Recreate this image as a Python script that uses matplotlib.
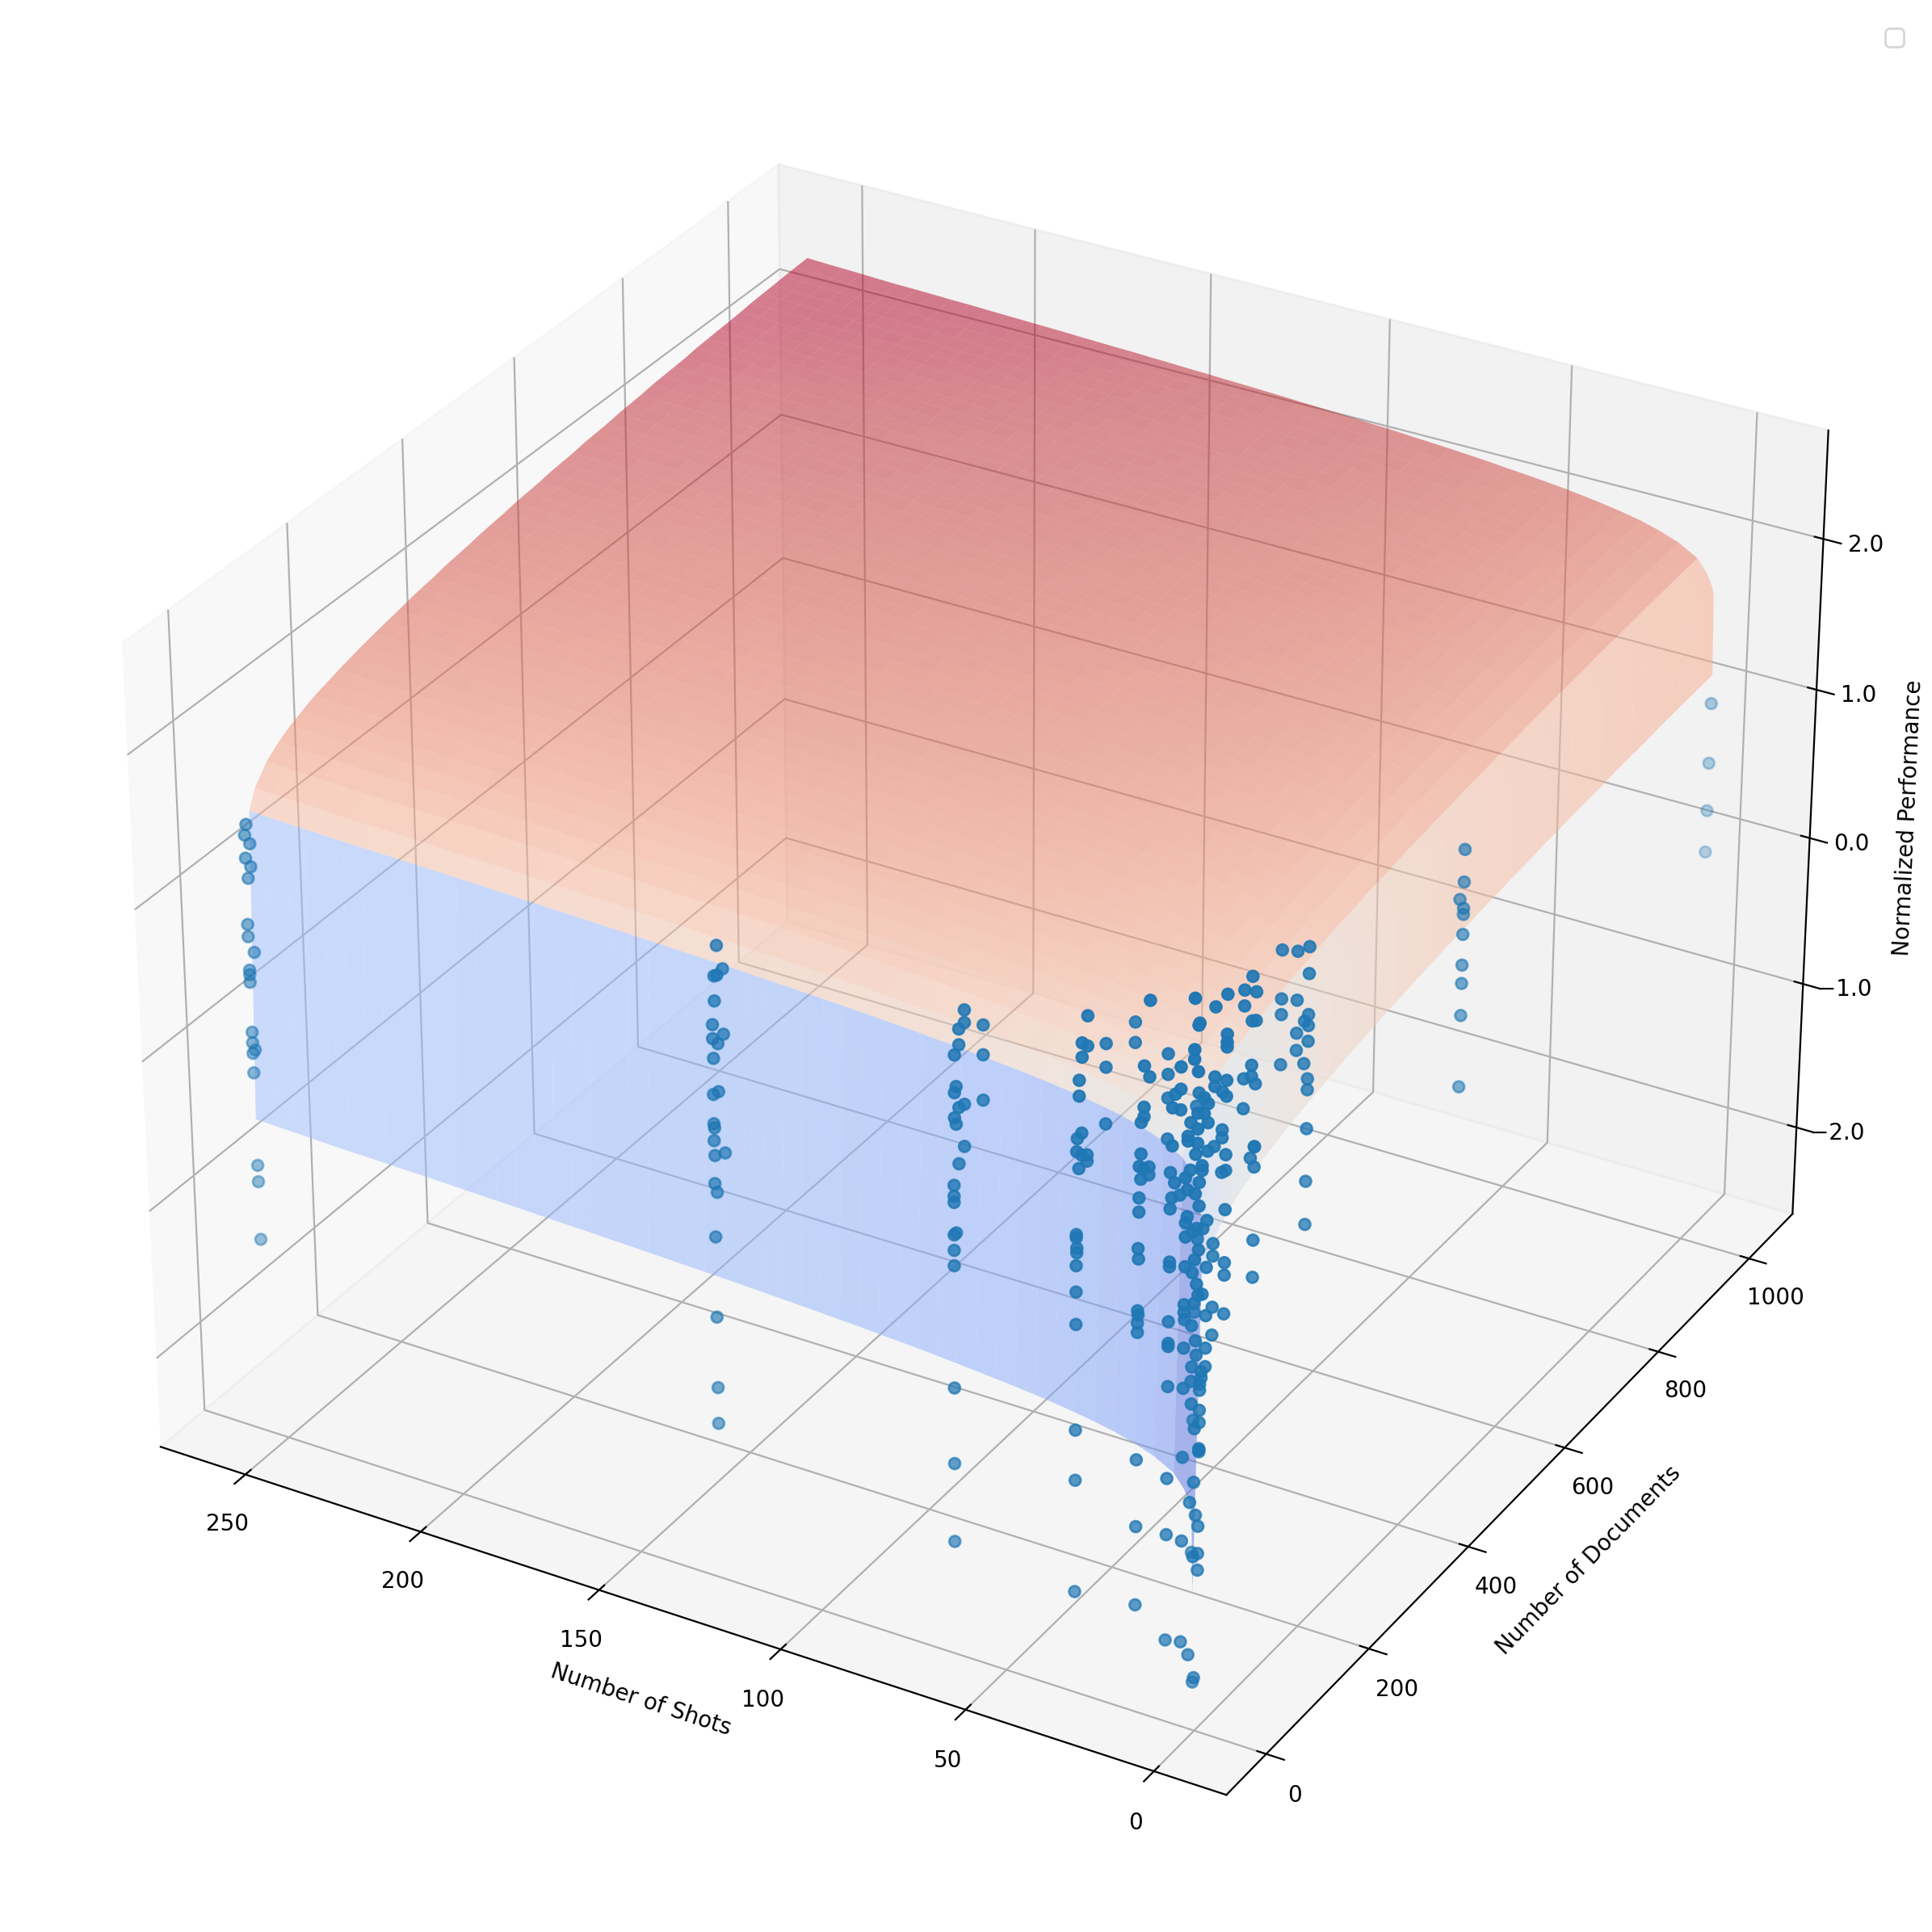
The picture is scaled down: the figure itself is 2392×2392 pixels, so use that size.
import numpy as np
import matplotlib
matplotlib.use("Agg")
import matplotlib.pyplot as plt
from matplotlib.colors import TwoSlopeNorm

# surface table: value at grid = base + shots_part + docs_part
strip_shots = [1, 1.5, 2, 3.6, 6.2]
strip_part = [0, .53, .58, .66, .74]
shots_grid = [6.2, 11.4, 16.6, 21.8, 27, 32.2, 37.4, 42.6, 47.8, 53, 58.2, 63.4, 68.6, 73.8, 79, 84.2,
              89.4, 94.6, 99.8, 105, 110.2, 115.4, 120.6, 125.8, 131, 136.2, 141.4, 146.6, 151.8, 157, 162.2,
              167.4, 172.6, 177.8, 183, 188.2, 193.4, 198.6, 203.8, 209, 214.2, 219.4, 224.6, 229.8, 235,
              240.2, 245.4, 250.6, 256]
shots_part = [.74, .81, .855, .89, .915, .936, .954, .97, .983, .995, 1.006, 1.017, 1.027, 1.036, 1.044, 1.051,
              1.06, 1.066, 1.073, 1.079, 1.085, 1.09, 1.096, 1.101, 1.106, 1.11, 1.115, 1.119, 1.124, 1.128, 1.133,
              1.136, 1.14, 1.144, 1.149, 1.152, 1.156, 1.159, 1.163, 1.167, 1.169, 1.173, 1.176, 1.178, 1.182,
              1.187, 1.191, 1.195, 1.2]
docs_grid = [1, 11.3, 21.9, 42.8, 63.6, 84.5, 105, 126, 147, 168, 189, 210, 231, 252, 273, 294, 314, 335, 356, 377,
             398, 419, 440, 461, 482, 503, 524, 545, 566, 587, 608, 629, 650, 671, 692, 713, 734, 754, 775, 796,
             817, 838, 859, 880, 901, 922, 943, 964, 985, 1006, 1030]
docs_part = [0, 2.0, 2.115, 2.226, 2.291, 2.339, 2.375, 2.41, 2.434, 2.459, 2.481, 2.501, 2.519, 2.536, 2.551, 2.57,
             2.582, 2.594, 2.611, 2.621, 2.632, 2.646, 2.656, 2.665, 2.678, 2.686, 2.694, 2.706, 2.713, 2.72, 2.732,
             2.738, 2.744, 2.755, 2.761, 2.767, 2.777, 2.782, 2.787, 2.792, 2.802, 2.807, 2.812, 2.816, 2.822, 2.83,
             2.834, 2.838, 2.843, 2.847, 2.85]
base = -1.69

# measured points, per number of shots then number of documents
perf_s1 = {1: [-1.46, -0.97, -0.62, -0.05, 0.67, 1.21, 1.30, 1.40, 1.66, 1.95], 2: [0.31],
           5: [-2.28, -1.20, 0.23, 0.52, 0.80, 0.95],
           10: [-1.58, -1.47, -1.29, -0.80, -0.79, -0.78, -0.61, -0.53, -0.40, -0.36, 1.01, 1.04],
           20: [-0.28, -0.16, 0.05, 0.36, 0.66, 1.10, 1.28, 1.40],
           54: [-0.05, 0.20, 0.28, 0.62, 0.87, 0.97, 1.34, 1.44, 1.65, 1.68, 1.73, 1.98],
           108: [0.01, 0.25, 0.72, 0.85, 0.85, 1.25, 1.65, 1.83],
           208: [0.03, 0.31, 0.65, 0.90, 0.97, 1.21, 1.31, 1.38, 1.64, 1.81],
           512: [-0.03, 0.44, 0.65, 0.77, 0.97, 1.10, 1.14, 1.31, 1.52], 1030: [-0.03, 0.25, 0.57, 0.97]}
perf_s2 = {1: [-2.12, -1.11, -0.32, 0.04, 0.38, 0.64, 1.73, 1.79, 2.11], 2: [-0.47, -0.23],
           5: [0.17, 0.45, 0.87, 1.12], 10: [-0.18], 20: [-0.36, -0.32, 0.18, 0.60, 1.33, 1.43],
           54: [0.85, 1.07, 1.12, 1.36], 108: [0.77, 1.29, 1.36, 1.64, 1.92], 208: [1.06, 1.33], 512: [1.19]}
perf_s4 = {1: [-2.05, -1.38, -0.83, -0.38, -0.12, 0.11, 0.16, 0.97], 2: [0.06, 0.40, 0.59, 0.68],
           5: [0.71, 0.88, 1.19, 1.22], 10: [0.99, 1.29], 54: [-0.21, -0.03, 0.30, 0.38, 1.00, 1.38, 1.44, 1.88],
           108: [1.07, 1.26, 1.72, 1.82], 208: [1.13, 1.24, 1.45, 1.76]}
perf_s8 = {1: [-2.07, -1.37, -1.00, -0.40, -0.14, -0.12, 0.02], 2: [0.37, 0.40, 0.74, 0.97],
           5: [0.80, 1.13, 1.37], 10: [0.88, 1.44], 20: [0.77, 1.31, 1.44, 1.58], 54: [-2.54, 0.38, 1.31, 1.75],
           208: [1.01, 1.33, 1.43, 1.74]}
perf_s16 = {1: [-1.90, -1.38, -0.94, -0.11, -0.05, 0.03, 0.43], 2: [-0.00, 0.36, 0.66, 0.75, 0.95],
            5: [0.86, 1.02, 1.22], 10: [0.91, 1.24, 1.30, 1.56], 20: [0.84, 0.89, 1.46, 1.94],
            54: [0.96, 1.22, 1.37, 1.50], 108: [-1.92, -1.04, -0.33, 1.00]}
perf_s32 = {1: [-1.94, -1.20, -0.87, -0.18, 0.03, 0.20, 0.38, 0.40, 0.93], 2: [0.28, 0.31, 1.01],
            5: [0.81, 1.27, 1.37], 10: [0.88, 1.02, 1.50, 1.59], 20: [0.81, 0.85, 1.54, 1.73],
            54: [0.94, 1.30, 1.45], 108: [1.29, 1.42]}
perf_s64 = {1: [-1.86, -1.34, -0.84, -0.04, 0.06, 0.16, 0.37, 0.41, 0.48], 2: [0.91, 1.07, 1.31],
            5: [0.16, 0.86, 1.10], 10: [0.59, 0.95, 1.35, 1.45], 20: [0.67, 0.94, 1.46, 1.54], 54: [0.86, 1.15, 1.34]}
perf_s128 = {1: [-1.57, -1.33, -0.86, -0.33, 0.02, 0.30, 0.41, 0.60, 0.96, 1.05], 2: [0.20, 0.38, 0.83],
             5: [-0.05, 1.19, 1.35], 10: [0.59, 0.90, 1.34, 1.53], 20: [0.16, 0.93, 1.35]}
perf_s256 = {1: [-1.30, -0.91, -0.80, -0.18, -0.05, 0.02, 0.09, 0.42, 0.47, 0.50, 0.72, 0.80], 2: [1.23, 1.38],
             5: [-0.04, 1.09, 1.44], 10: [0.59, 1.15, 1.30]}
perf_tables = {1: perf_s1, 2: perf_s2, 4: perf_s4, 8: perf_s8, 16: perf_s16, 32: perf_s32, 64: perf_s64,
               128: perf_s128, 256: perf_s256}

xs, ys, zs = [], [], []
for shots, table in perf_tables.items():
    for docs, values in table.items():
        for v in values:
            xs.append(shots)
            ys.append(docs)
            zs.append(v)

fig = plt.figure(figsize=(11.96, 11.96), dpi=200)
ax = fig.add_subplot(111, projection='3d')
ax.set_position([0.009, 0.009, 0.982, 0.982])

norm = TwoSlopeNorm(vmin=-0.5, vcenter=1.2, vmax=2.33)
S, D = np.meshgrid(shots_grid, docs_grid)
Z = base + np.add.outer(docs_part, shots_part)
ax.plot_surface(S, D, Z, cmap='coolwarm', norm=norm, alpha=0.5, rstride=1, cstride=1, linewidth=0)
# the first strip is one facet wide but curved
S2, D2 = np.meshgrid(strip_shots, docs_grid)
Z2 = base + np.add.outer(docs_part, strip_part)
ax.plot_surface(S2, D2, Z2, cmap='coolwarm', norm=norm, alpha=0.5, rstride=1, cstride=4, linewidth=0)

ax.scatter(xs, ys, zs, s=25)
ax.view_init(elev=30, azim=-60)
ax.set_xlim(274.5, -19)
ax.set_ylim(-76, 1098)
ax.set_zlim(-2.61, 2.71)
ax.set_xlabel('Number of Shots', labelpad=5.5)
ax.set_ylabel('Number of Documents', labelpad=6.5)
ax.set_zlabel('Normalized Performance', labelpad=6)
ax.set_zticks([-2, -1, 0, 1, 2], ['\u22122.0', '\u22121.0', '0.0', '1.0', '2.0'])
ax.tick_params(axis='x', pad=4.5)
ax.legend()
fig.savefig('out.png')
